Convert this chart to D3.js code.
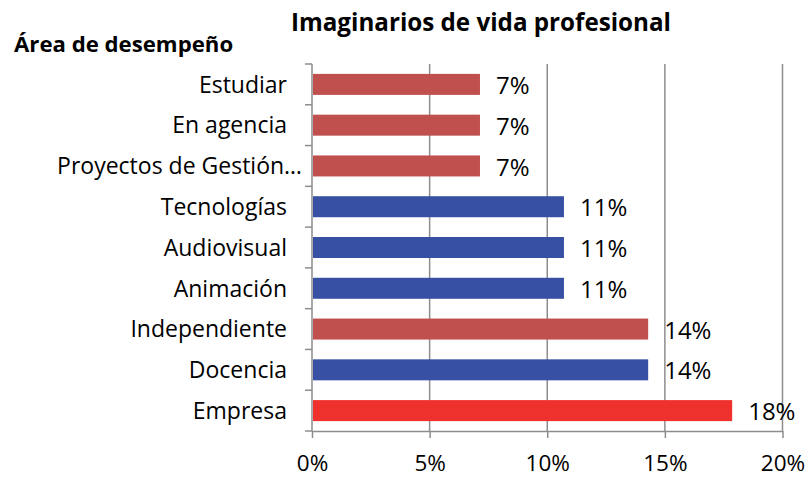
<!DOCTYPE html>
<html>
<head>
<meta charset="utf-8">
<script src="https://cdn.jsdelivr.net/npm/d3@7"></script>
<style>
  html, body { margin: 0; padding: 0; background: #fff; }
  svg { display: block; }
  text { font-family: "Open Sans", sans-serif; fill: #000; }
</style>
</head>
<body>
<svg id="chart" width="808" height="477"></svg>
<script>
// ---- data ----
const categories = ["Estudiar", "En agencia", "Proyectos de Gestión…", "Tecnologías", "Audiovisual", "Animación", "Independiente", "Docencia", "Empresa"];
const values = [7.14, 7.14, 7.14, 10.71, 10.71, 10.71, 14.29, 14.29, 17.86];
const valueLabels = ["7%", "7%", "7%", "11%", "11%", "11%", "14%", "14%", "18%"];
const groups = ["a", "a", "a", "b", "b", "b", "a", "b", "c"];
const xTicks = [0, 5, 10, 15, 20];
const xTickLabels = ["0%", "5%", "10%", "15%", "20%"];
const chartTitle = "Imaginarios de vida profesional";
const axisTitle = "Área de desempeño";

// ---- layout ----
const svg = d3.select("#chart");
const mLeft = 312, mRight = 782.5, mTop = 64, mBottom = 431;

const x = d3.scaleLinear().domain([0, 20]).range([mLeft, mRight]);
const pad = 0.485;
const y = d3.scaleBand().domain(categories).range([mTop, mBottom]).paddingInner(pad).paddingOuter(pad / 2);
const color = d3.scaleOrdinal().domain(["a", "b", "c"]).range(["#C0504D", "#3850A4", "#EE312D"]);
const gridColor = "#8d8d8d";

// gridlines
svg.append("g").selectAll("line").data(xTicks.slice(1)).join("line")
  .attr("x1", d => x(d)).attr("x2", d => x(d))
  .attr("y1", mTop).attr("y2", mBottom)
  .attr("stroke", gridColor).attr("stroke-width", 1.5);

// bars
const rows = categories.map((c, i) => ({ c, v: values[i], l: valueLabels[i], g: groups[i] }));
svg.append("g").selectAll("rect").data(rows).join("rect")
  .attr("x", x(0) + 1)
  .attr("y", d => y(d.c))
  .attr("width", d => x(d.v) - x(0) - 1)
  .attr("height", y.bandwidth())
  .attr("fill", d => color(d.g));

// x axis
const xAxis = d3.axisBottom(x).tickValues(xTicks).tickSize(7).tickSizeOuter(0)
  .tickFormat((d, i) => xTickLabels[i]);
const gx = svg.append("g").attr("transform", `translate(0,${mBottom})`).call(xAxis);
gx.select(".domain").attr("stroke", gridColor).attr("stroke-width", 1.5);
gx.selectAll(".tick line").attr("stroke", gridColor).attr("stroke-width", 1.5);
gx.selectAll(".tick text").attr("y", 24).attr("dy", "0.71em")
  .style("font-family", "'Open Sans', sans-serif").style("font-size", "22.5px").attr("fill", "#000");

// y axis line and boundary ticks
const step = y.step();
const boundaries = categories.map(c => y(c) - step * pad / 2).concat([mBottom]);
svg.append("line").attr("x1", mLeft).attr("x2", mLeft).attr("y1", mTop).attr("y2", mBottom)
  .attr("stroke", gridColor).attr("stroke-width", 1.5);
svg.append("g").selectAll("line").data(boundaries).join("line")
  .attr("x1", mLeft - 7).attr("x2", mLeft)
  .attr("y1", d => d).attr("y2", d => d)
  .attr("stroke", gridColor).attr("stroke-width", 1.5);

// category labels
svg.append("g").selectAll("text").data(rows).join("text")
  .attr("x", d => d.c.endsWith("…") ? 302 : 287)
  .attr("y", d => y(d.c) + y.bandwidth() / 2)
  .attr("dy", "0.36em")
  .attr("text-anchor", "end")
  .style("font-size", "23px")
  .text(d => d.c);

// value labels
svg.append("g").selectAll("text").data(rows).join("text")
  .attr("x", d => x(d.v) + 16)
  .attr("y", d => y(d.c) + y.bandwidth() / 2 + 1)
  .attr("dy", "0.36em")
  .style("font-size", "24px")
  .text(d => d.l);

// titles
svg.append("text").attr("x", 291).attr("y", 31)
  .style("font-size", "24.2px").style("font-weight", "bold").text(chartTitle);
svg.append("text").attr("x", 14).attr("y", 52)
  .style("font-size", "22.2px").style("font-weight", "bold").text(axisTitle);
</script>
</body>
</html>
